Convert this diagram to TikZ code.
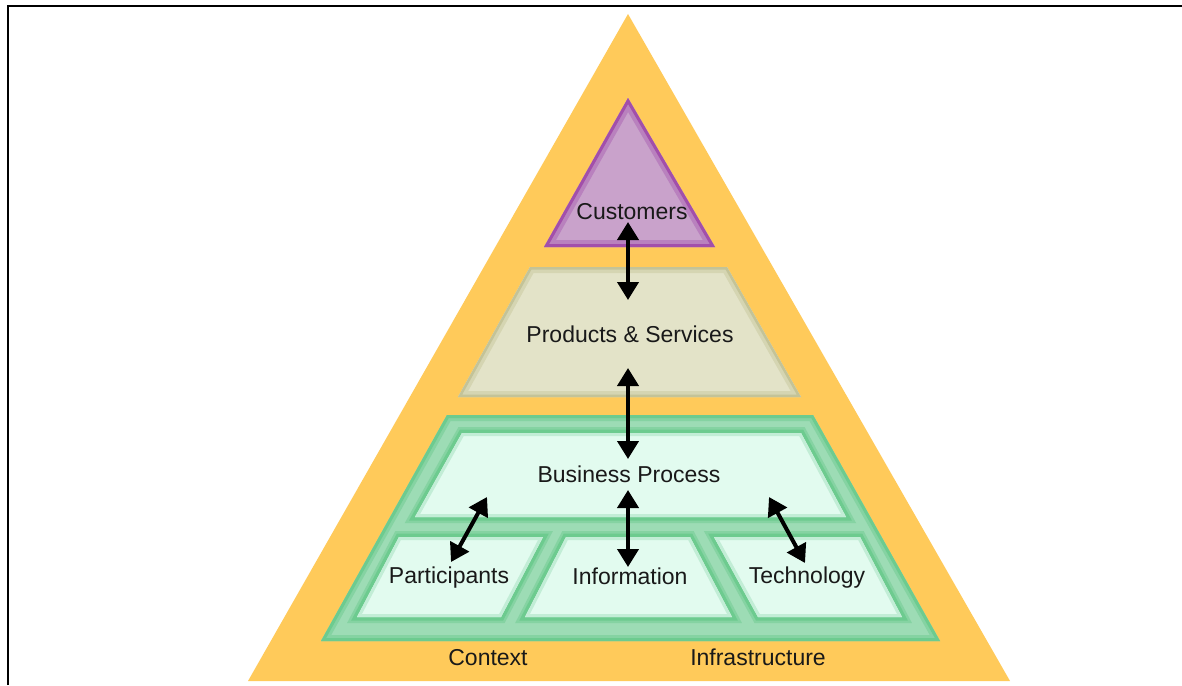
\documentclass[tikz,border=0pt]{standalone}
\usepackage{fontspec}
\setmainfont{Liberation Sans}
\usetikzlibrary{arrows.meta}
\definecolor{orng}{HTML}{FFCA5A}
\definecolor{purpfill}{HTML}{C9A2CB}
\definecolor{purpedge}{HTML}{A24FAA}
\definecolor{psfill}{HTML}{E3E3C8}
\definecolor{psedge}{HTML}{C3C398}
\definecolor{grmid}{HTML}{9DDCB5}
\definecolor{gredge}{HTML}{6DCB8F}
\definecolor{panelfill}{HTML}{E2FBEF}
\definecolor{panelglow}{HTML}{C2EDD6}
\begin{document}
\begin{tikzpicture}[x=1pt,y=-1pt,
  lbl/.style={font=\fontsize{23}{27}\selectfont, inner sep=0pt, anchor=base, text=black!90},
  dblarrow/.style={{Triangle[width=21pt,length=18pt]}-{Triangle[width=21pt,length=18pt]}, line width=4pt, black}]
\useasboundingbox (0,0) rectangle (1182,685);
\fill[white] (0,0) rectangle (1182,685);
% frame (top and left only)
\draw[line width=2.5pt] (8,685) -- (8,6) -- (1182,6);

% outer orange triangle
\fill[orng] (628,14) -- (1010,681) -- (248,681) -- cycle;

% customers triangle
\fill[purpfill] (628,98) -- (715,247) -- (544,247) -- cycle;
\begin{scope}
  \clip (628,98) -- (715,247) -- (544,247) -- cycle;
  \draw[line width=14pt, purpedge!40!purpfill] (628,98) -- (715,247) -- (544,247) -- cycle;
  \draw[line width=6pt, purpedge] (628,98) -- (715,247) -- (544,247) -- cycle;
\end{scope}

% products & services trapezoid
\fill[psfill] (530,267) -- (727,267) -- (801,397) -- (458,397) -- cycle;
\begin{scope}
  \clip (530,267) -- (727,267) -- (801,397) -- (458,397) -- cycle;
  \draw[line width=12pt, psedge!45!psfill] (530,267) -- (727,267) -- (801,397) -- (458,397) -- cycle;
  \draw[line width=5pt, psedge] (530,267) -- (727,267) -- (801,397) -- (458,397) -- cycle;
\end{scope}

% green frame
\fill[grmid] (447,415) -- (813,415) -- (940,641) -- (321,641) -- cycle;
\begin{scope}
  \clip (447,415) -- (813,415) -- (940,641) -- (321,641) -- cycle;
  \draw[line width=12pt, gredge!50!grmid] (447,415) -- (813,415) -- (940,641) -- (321,641) -- cycle;
  \draw[line width=6pt, gredge] (447,415) -- (813,415) -- (940,641) -- (321,641) -- cycle;
\end{scope}

% panels
\foreach \pp in {
  {(462,433) -- (801,433) -- (846,517) -- (415,517) -- cycle},
  {(399,537) -- (543,537) -- (501,617) -- (357,617) -- cycle},
  {(566,537) -- (690,537) -- (732,617) -- (525,617) -- cycle},
  {(714,537) -- (860,537) -- (902,617) -- (758,617) -- cycle}}{
  \draw[line width=12pt, gredge!50!grmid, line join=miter] \pp;
  \draw[line width=7pt, gredge, line join=miter] \pp;
  \fill[panelfill] \pp;
  \begin{scope}
    \clip \pp;
    \draw[line width=6pt, panelglow] \pp;
  \end{scope}
}

% labels
\node[lbl] (cust) at (632,219) {Customers};
\node[lbl] (ps) at (630,342) {Products \& Services};
\node[lbl] (bp) at (629,482) {Business Process};
\node[lbl] (part) at (449,583) {Participants};
\node[lbl] (info) at (630,584) {Information};
\node[lbl] (tech) at (807,583) {Technology};
\node[lbl] (ctx) at (488,665) {Context};
\node[lbl] (infra) at (758,665) {Infrastructure};

% arrow end points
\coordinate (a1t) at (628,222);
\coordinate (a1b) at (628,300);
\coordinate (a2t) at (628,368);
\coordinate (a2b) at (628,459);
\coordinate (a3t) at (628,490);
\coordinate (a3b) at (628,567);
\coordinate (a4t) at (487,497);
\coordinate (a4b) at (451,562);
\coordinate (a5t) at (769,497);
\coordinate (a5b) at (805,563);

\draw[dblarrow] (a1t) -- (a1b);
\draw[dblarrow] (a2t) -- (a2b);
\draw[dblarrow] (a3t) -- (a3b);
\draw[dblarrow] (a4t) -- (a4b);
\draw[dblarrow] (a5t) -- (a5b);
\end{tikzpicture}
\end{document}
